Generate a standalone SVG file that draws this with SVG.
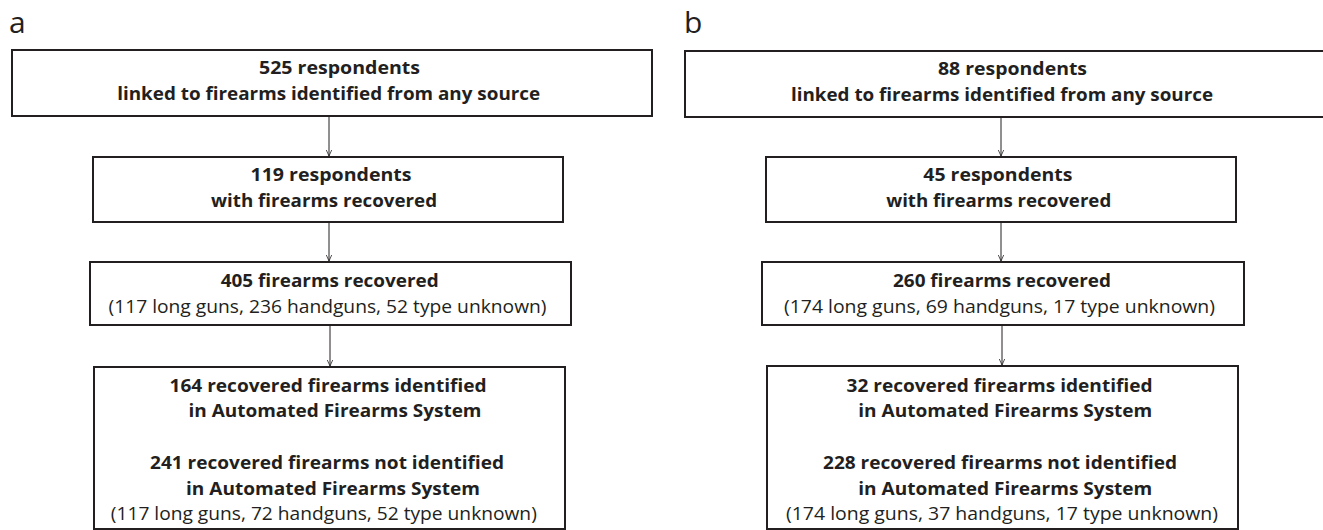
<svg xmlns="http://www.w3.org/2000/svg" width="1323" height="530" viewBox="0 0 1323 530">
<style>
.box{fill:#fff;stroke:#231f20;stroke-width:2}
.b{font-family:"Open Sans","Liberation Sans",sans-serif;font-weight:bold;font-size:18px;fill:#231f20;text-anchor:middle}
.r{font-family:"Open Sans","Liberation Sans",sans-serif;font-weight:normal;font-size:18px;fill:#231f20;text-anchor:middle}
.lbl{font-family:"Open Sans","Liberation Sans",sans-serif;font-size:30px;fill:#231f20}
.conn{stroke:#231f20;stroke-width:1;fill:none}
</style>
<defs>
<marker id="ah" viewBox="0 0 10 10" refX="10" refY="5" markerWidth="6" markerHeight="7" markerUnits="userSpaceOnUse" orient="auto">
<path d="M0,0.5 L10,5 L0,9.5" fill="none" stroke="#231f20" stroke-width="1.3"/>
</marker>
</defs>
<rect width="1323" height="530" fill="#fff"/>
<text class="lbl" x="9" y="33">a</text>
<text class="lbl" x="684" y="33">b</text>

<g id="connectors">
<line class="conn" x1="329" y1="117" x2="329" y2="156" marker-end="url(#ah)"/>
<line class="conn" x1="329" y1="223" x2="329" y2="261" marker-end="url(#ah)"/>
<line class="conn" x1="330" y1="326" x2="330" y2="366" marker-end="url(#ah)"/>
<line class="conn" x1="1001" y1="118" x2="1001" y2="156" marker-end="url(#ah)"/>
<line class="conn" x1="1001" y1="223" x2="1001" y2="261" marker-end="url(#ah)"/>
<line class="conn" x1="1002" y1="326" x2="1002" y2="365" marker-end="url(#ah)"/>
</g>

<g id="a1">
<rect class="box" x="12" y="50" width="640" height="66"/>
<text class="b" x="339.5" y="74" textLength="161" lengthAdjust="spacingAndGlyphs">525 respondents</text>
<text class="b" x="328.7" y="100" textLength="423" lengthAdjust="spacingAndGlyphs">linked to firearms identified from any source</text>
</g>
<g id="a2">
<rect class="box" x="93" y="157" width="470" height="65"/>
<text class="b" x="331" y="181" textLength="161" lengthAdjust="spacingAndGlyphs">119 respondents</text>
<text class="b" x="324" y="207" textLength="226" lengthAdjust="spacingAndGlyphs">with firearms recovered</text>
</g>
<g id="a3">
<rect class="box" x="90" y="262" width="481" height="63"/>
<text class="b" x="329.7" y="286.5" textLength="218" lengthAdjust="spacingAndGlyphs">405 firearms recovered</text>
<text class="r" x="327.5" y="313" textLength="438" lengthAdjust="spacingAndGlyphs">(117 long guns, 236 handguns, 52 type unknown)</text>
</g>
<g id="a4">
<rect class="box" x="94" y="367" width="471" height="162"/>
<text class="b" x="328" y="392" textLength="317" lengthAdjust="spacingAndGlyphs">164 recovered firearms identified</text>
<text class="b" x="335" y="417" textLength="293" lengthAdjust="spacingAndGlyphs">in Automated Firearms System</text>
<text class="b" x="327" y="468.5" textLength="354" lengthAdjust="spacingAndGlyphs">241 recovered firearms not identified</text>
<text class="b" x="333" y="494.5" textLength="294" lengthAdjust="spacingAndGlyphs">in Automated Firearms System</text>
<text class="r" x="323.8" y="520" textLength="426" lengthAdjust="spacingAndGlyphs">(117 long guns, 72 handguns, 52 type unknown)</text>
</g>

<g id="b1">
<rect class="box" x="685" y="51" width="640" height="66"/>
<text class="b" x="1012.5" y="75" textLength="149" lengthAdjust="spacingAndGlyphs">88 respondents</text>
<text class="b" x="1002" y="100.7" textLength="422" lengthAdjust="spacingAndGlyphs">linked to firearms identified from any source</text>
</g>
<g id="b2">
<rect class="box" x="766" y="157" width="470" height="65"/>
<text class="b" x="997.8" y="181" textLength="149" lengthAdjust="spacingAndGlyphs">45 respondents</text>
<text class="b" x="998.7" y="207" textLength="225" lengthAdjust="spacingAndGlyphs">with firearms recovered</text>
</g>
<g id="b3">
<rect class="box" x="762" y="262" width="482" height="63"/>
<text class="b" x="1002" y="286.7" textLength="218" lengthAdjust="spacingAndGlyphs">260 firearms recovered</text>
<text class="r" x="999.5" y="313.3" textLength="431" lengthAdjust="spacingAndGlyphs">(174 long guns, 69 handguns, 17 type unknown)</text>
</g>
<g id="b4">
<rect class="box" x="767" y="366" width="471" height="163"/>
<text class="b" x="999.5" y="391.7" textLength="306" lengthAdjust="spacingAndGlyphs">32 recovered firearms identified</text>
<text class="b" x="1005.3" y="416.7" textLength="294" lengthAdjust="spacingAndGlyphs">in Automated Firearms System</text>
<text class="b" x="1000" y="469" textLength="354" lengthAdjust="spacingAndGlyphs">228 recovered firearms not identified</text>
<text class="b" x="1005.3" y="495" textLength="294" lengthAdjust="spacingAndGlyphs">in Automated Firearms System</text>
<text class="r" x="1002" y="520" textLength="432" lengthAdjust="spacingAndGlyphs">(174 long guns, 37 handguns, 17 type unknown)</text>
</g>
</svg>
